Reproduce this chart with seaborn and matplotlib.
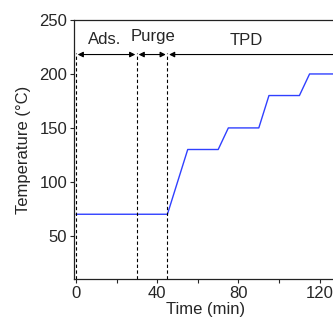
import numpy as np
import pandas as pd
import matplotlib
matplotlib.use("Agg")
import matplotlib.pyplot as plt
import seaborn as sns
from matplotlib.ticker import MultipleLocator

# temperature program
time_min = [0, 45, 55, 70, 75, 90, 95, 110, 115, 135]
temp_c = [70, 70, 130, 130, 150, 150, 180, 180, 200, 200]

# stage boundaries (min) and labels
bounds = [0, 30, 45]
stage_names = ["Ads.", "Purge", "TPD"]
stage_spans = [(0, 30), (30, 45), (45, 135)]
label_pos = [(14, 232), (38, 235), (84, 231)]

sns.set_style("ticks")
plt.rcParams['font.family'] = ['Liberation Sans', 'DejaVu Sans']
plt.rcParams['font.size'] = 12

df = pd.DataFrame({"Time (min)": time_min, "Temperature (°C)": temp_c})

fig = plt.figure(figsize=(3.33, 3.2), dpi=100)
ax = fig.add_axes([74 / 333, 41 / 320, 264 / 333, 259 / 320])

sns.lineplot(data=df, x="Time (min)", y="Temperature (°C)", ax=ax,
             color="#3040ff", linewidth=1.0)

ax.set_xlim(-1, 129)
ax.set_ylim(10, 250)

arrow_y = 218
ax.vlines(bounds, 10, arrow_y + 1, colors="black", linestyles=(0, (3, 2.2)), linewidth=0.8)

for (x0, x1), name, (tx, ty) in zip(stage_spans, stage_names, label_pos):
    ax.annotate("", xy=(x0 + 0.8, arrow_y), xytext=(x1 - 0.8, arrow_y),
                arrowprops=dict(arrowstyle="<|-|>", color="black", lw=0.8,
                                mutation_scale=8, shrinkA=0, shrinkB=0))
    ax.text(tx, ty, name, ha="center", va="center", fontsize=12)

ax.xaxis.set_major_locator(MultipleLocator(40))
ax.xaxis.set_minor_locator(MultipleLocator(20))
ax.yaxis.set_major_locator(MultipleLocator(50))
ax.tick_params(axis="both", which="both", direction="out", length=3, width=0.8, pad=2)
ax.tick_params(axis="x", which="minor", length=3)

for s in ["left", "bottom", "top", "right"]:
    ax.spines[s].set_visible(True)
    ax.spines[s].set_linewidth(0.9)
    ax.spines[s].set_color("#222222")

ax.set_xlabel("Time (min)", labelpad=1)
ax.set_ylabel("Temperature (°C)", labelpad=6)

fig.savefig("out.png", dpi=100)
